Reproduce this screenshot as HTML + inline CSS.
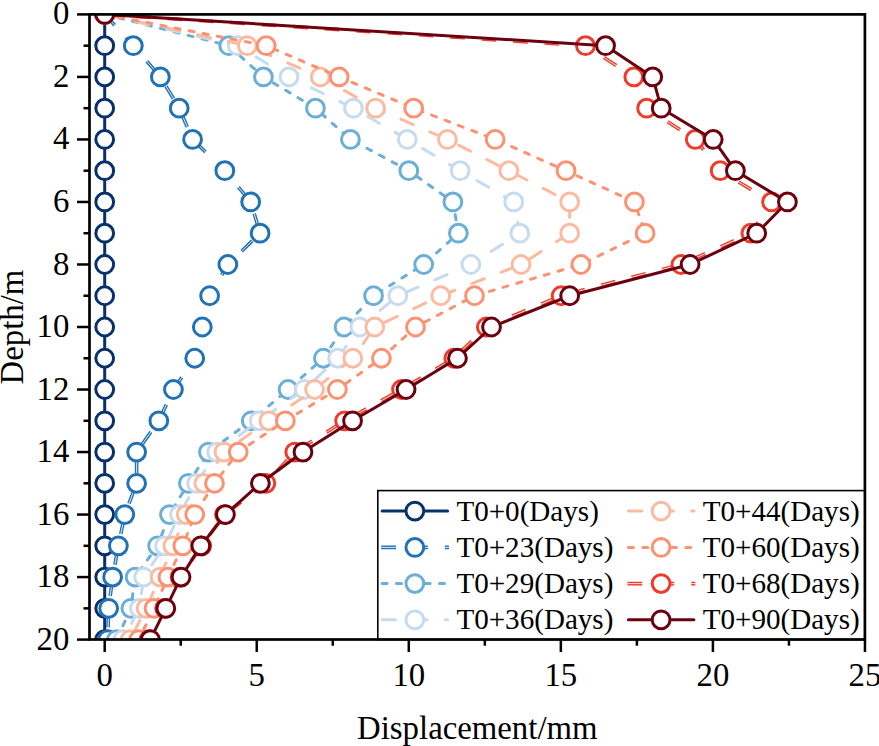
<!DOCTYPE html>
<html><head><meta charset="utf-8"><style>
html,body{margin:0;padding:0;background:#fff;}
svg{display:block;}
text{font-family:"Liberation Serif",serif;fill:#000;}
.tk{font-size:32.8px;}
.tt{font-size:32.8px;}
.lg{font-size:29.1px;}
</style></head><body>
<svg width="879" height="746" viewBox="0 0 879 746">
<clipPath id="pc"><rect x="89.5" y="14.4" width="775.4" height="625.1"/></clipPath>
<g clip-path="url(#pc)">
<polyline points="104.70,14.40 104.70,45.66 104.70,76.92 104.70,108.18 104.70,139.44 104.70,170.70 104.70,201.96 104.70,233.22 104.70,264.48 104.70,295.74 104.70,327.00 104.70,358.26 104.70,389.52 104.70,420.78 104.70,452.04 104.70,483.30 104.70,514.56 104.70,545.82 104.70,577.08 104.70,608.34 104.70,639.60" fill="none" stroke="#08306b" stroke-width="3.0" stroke-linejoin="round" stroke-linecap="round"/>
<circle cx="104.70" cy="14.40" r="8.9" fill="#fff" stroke="#08306b" stroke-width="3.0"/>
<circle cx="104.70" cy="45.66" r="8.9" fill="#fff" stroke="#08306b" stroke-width="3.0"/>
<circle cx="104.70" cy="76.92" r="8.9" fill="#fff" stroke="#08306b" stroke-width="3.0"/>
<circle cx="104.70" cy="108.18" r="8.9" fill="#fff" stroke="#08306b" stroke-width="3.0"/>
<circle cx="104.70" cy="139.44" r="8.9" fill="#fff" stroke="#08306b" stroke-width="3.0"/>
<circle cx="104.70" cy="170.70" r="8.9" fill="#fff" stroke="#08306b" stroke-width="3.0"/>
<circle cx="104.70" cy="201.96" r="8.9" fill="#fff" stroke="#08306b" stroke-width="3.0"/>
<circle cx="104.70" cy="233.22" r="8.9" fill="#fff" stroke="#08306b" stroke-width="3.0"/>
<circle cx="104.70" cy="264.48" r="8.9" fill="#fff" stroke="#08306b" stroke-width="3.0"/>
<circle cx="104.70" cy="295.74" r="8.9" fill="#fff" stroke="#08306b" stroke-width="3.0"/>
<circle cx="104.70" cy="327.00" r="8.9" fill="#fff" stroke="#08306b" stroke-width="3.0"/>
<circle cx="104.70" cy="358.26" r="8.9" fill="#fff" stroke="#08306b" stroke-width="3.0"/>
<circle cx="104.70" cy="389.52" r="8.9" fill="#fff" stroke="#08306b" stroke-width="3.0"/>
<circle cx="104.70" cy="420.78" r="8.9" fill="#fff" stroke="#08306b" stroke-width="3.0"/>
<circle cx="104.70" cy="452.04" r="8.9" fill="#fff" stroke="#08306b" stroke-width="3.0"/>
<circle cx="104.70" cy="483.30" r="8.9" fill="#fff" stroke="#08306b" stroke-width="3.0"/>
<circle cx="104.70" cy="514.56" r="8.9" fill="#fff" stroke="#08306b" stroke-width="3.0"/>
<circle cx="104.70" cy="545.82" r="8.9" fill="#fff" stroke="#08306b" stroke-width="3.0"/>
<circle cx="104.70" cy="577.08" r="8.9" fill="#fff" stroke="#08306b" stroke-width="3.0"/>
<circle cx="104.70" cy="608.34" r="8.9" fill="#fff" stroke="#08306b" stroke-width="3.0"/>
<circle cx="104.70" cy="639.60" r="8.9" fill="#fff" stroke="#08306b" stroke-width="3.0"/>
<mask id="dm1" maskUnits="userSpaceOnUse" x="0" y="0" width="879" height="746"><rect x="0" y="0" width="879" height="746" fill="#fff"/><polyline points="104.70,14.40 133.29,45.66 160.35,76.92 179.20,108.18 192.58,139.44 224.82,170.70 250.67,201.96 260.10,233.22 227.86,264.48 209.61,295.74 202.32,327.00 194.71,358.26 173.43,389.52 158.83,420.78 136.63,452.04 136.63,483.30 124.77,514.56 118.38,545.82 112.61,577.08 108.65,608.34 107.74,639.60" fill="none" stroke="#000" stroke-width="0.85" stroke-linejoin="round"/></mask><polyline points="104.70,14.40 133.29,45.66 160.35,76.92 179.20,108.18 192.58,139.44 224.82,170.70 250.67,201.96 260.10,233.22 227.86,264.48 209.61,295.74 202.32,327.00 194.71,358.26 173.43,389.52 158.83,420.78 136.63,452.04 136.63,483.30 124.77,514.56 118.38,545.82 112.61,577.08 108.65,608.34 107.74,639.60" fill="none" stroke="#2171b5" stroke-width="3.6" stroke-dasharray="14.8 16.68" stroke-dashoffset="0" stroke-linejoin="round" mask="url(#dm1)"/>
<circle cx="104.70" cy="14.40" r="8.9" fill="#fff" stroke="#2171b5" stroke-width="3.0"/>
<circle cx="133.29" cy="45.66" r="8.9" fill="#fff" stroke="#2171b5" stroke-width="3.0"/>
<circle cx="160.35" cy="76.92" r="8.9" fill="#fff" stroke="#2171b5" stroke-width="3.0"/>
<circle cx="179.20" cy="108.18" r="8.9" fill="#fff" stroke="#2171b5" stroke-width="3.0"/>
<circle cx="192.58" cy="139.44" r="8.9" fill="#fff" stroke="#2171b5" stroke-width="3.0"/>
<circle cx="224.82" cy="170.70" r="8.9" fill="#fff" stroke="#2171b5" stroke-width="3.0"/>
<circle cx="250.67" cy="201.96" r="8.9" fill="#fff" stroke="#2171b5" stroke-width="3.0"/>
<circle cx="260.10" cy="233.22" r="8.9" fill="#fff" stroke="#2171b5" stroke-width="3.0"/>
<circle cx="227.86" cy="264.48" r="8.9" fill="#fff" stroke="#2171b5" stroke-width="3.0"/>
<circle cx="209.61" cy="295.74" r="8.9" fill="#fff" stroke="#2171b5" stroke-width="3.0"/>
<circle cx="202.32" cy="327.00" r="8.9" fill="#fff" stroke="#2171b5" stroke-width="3.0"/>
<circle cx="194.71" cy="358.26" r="8.9" fill="#fff" stroke="#2171b5" stroke-width="3.0"/>
<circle cx="173.43" cy="389.52" r="8.9" fill="#fff" stroke="#2171b5" stroke-width="3.0"/>
<circle cx="158.83" cy="420.78" r="8.9" fill="#fff" stroke="#2171b5" stroke-width="3.0"/>
<circle cx="136.63" cy="452.04" r="8.9" fill="#fff" stroke="#2171b5" stroke-width="3.0"/>
<circle cx="136.63" cy="483.30" r="8.9" fill="#fff" stroke="#2171b5" stroke-width="3.0"/>
<circle cx="124.77" cy="514.56" r="8.9" fill="#fff" stroke="#2171b5" stroke-width="3.0"/>
<circle cx="118.38" cy="545.82" r="8.9" fill="#fff" stroke="#2171b5" stroke-width="3.0"/>
<circle cx="112.61" cy="577.08" r="8.9" fill="#fff" stroke="#2171b5" stroke-width="3.0"/>
<circle cx="108.65" cy="608.34" r="8.9" fill="#fff" stroke="#2171b5" stroke-width="3.0"/>
<circle cx="107.74" cy="639.60" r="8.9" fill="#fff" stroke="#2171b5" stroke-width="3.0"/>
<polyline points="104.70,14.40 228.77,45.66 263.44,76.92 315.44,108.18 350.41,139.44 408.80,170.70 452.89,201.96 458.37,233.22 423.70,264.48 373.52,295.74 344.03,327.00 323.35,358.26 288.07,389.52 251.28,420.78 208.40,452.04 188.33,483.30 169.47,514.56 157.61,545.82 135.11,577.08 130.85,608.34 116.56,639.60" fill="none" stroke="#6baed6" stroke-width="3.0" stroke-dasharray="5.0 9.33" stroke-linecap="round" stroke-linejoin="round"/>
<circle cx="104.70" cy="14.40" r="8.9" fill="#fff" stroke="#6baed6" stroke-width="3.0"/>
<circle cx="228.77" cy="45.66" r="8.9" fill="#fff" stroke="#6baed6" stroke-width="3.0"/>
<circle cx="263.44" cy="76.92" r="8.9" fill="#fff" stroke="#6baed6" stroke-width="3.0"/>
<circle cx="315.44" cy="108.18" r="8.9" fill="#fff" stroke="#6baed6" stroke-width="3.0"/>
<circle cx="350.41" cy="139.44" r="8.9" fill="#fff" stroke="#6baed6" stroke-width="3.0"/>
<circle cx="408.80" cy="170.70" r="8.9" fill="#fff" stroke="#6baed6" stroke-width="3.0"/>
<circle cx="452.89" cy="201.96" r="8.9" fill="#fff" stroke="#6baed6" stroke-width="3.0"/>
<circle cx="458.37" cy="233.22" r="8.9" fill="#fff" stroke="#6baed6" stroke-width="3.0"/>
<circle cx="423.70" cy="264.48" r="8.9" fill="#fff" stroke="#6baed6" stroke-width="3.0"/>
<circle cx="373.52" cy="295.74" r="8.9" fill="#fff" stroke="#6baed6" stroke-width="3.0"/>
<circle cx="344.03" cy="327.00" r="8.9" fill="#fff" stroke="#6baed6" stroke-width="3.0"/>
<circle cx="323.35" cy="358.26" r="8.9" fill="#fff" stroke="#6baed6" stroke-width="3.0"/>
<circle cx="288.07" cy="389.52" r="8.9" fill="#fff" stroke="#6baed6" stroke-width="3.0"/>
<circle cx="251.28" cy="420.78" r="8.9" fill="#fff" stroke="#6baed6" stroke-width="3.0"/>
<circle cx="208.40" cy="452.04" r="8.9" fill="#fff" stroke="#6baed6" stroke-width="3.0"/>
<circle cx="188.33" cy="483.30" r="8.9" fill="#fff" stroke="#6baed6" stroke-width="3.0"/>
<circle cx="169.47" cy="514.56" r="8.9" fill="#fff" stroke="#6baed6" stroke-width="3.0"/>
<circle cx="157.61" cy="545.82" r="8.9" fill="#fff" stroke="#6baed6" stroke-width="3.0"/>
<circle cx="135.11" cy="577.08" r="8.9" fill="#fff" stroke="#6baed6" stroke-width="3.0"/>
<circle cx="130.85" cy="608.34" r="8.9" fill="#fff" stroke="#6baed6" stroke-width="3.0"/>
<circle cx="116.56" cy="639.60" r="8.9" fill="#fff" stroke="#6baed6" stroke-width="3.0"/>
<polyline points="104.70,14.40 237.29,45.66 288.98,76.92 353.45,108.18 407.28,139.44 460.19,170.70 513.71,201.96 519.80,233.22 470.84,264.48 397.85,295.74 359.84,327.00 337.64,358.26 304.19,389.52 259.18,420.78 216.61,452.04 196.54,483.30 179.51,514.56 164.61,545.82 143.62,577.08 139.37,608.34 122.95,639.60" fill="none" stroke="#c6dbef" stroke-width="3.0" stroke-dasharray="13.4 18.25" stroke-linecap="round" stroke-linejoin="round"/>
<circle cx="104.70" cy="14.40" r="8.9" fill="#fff" stroke="#c6dbef" stroke-width="3.0"/>
<circle cx="237.29" cy="45.66" r="8.9" fill="#fff" stroke="#c6dbef" stroke-width="3.0"/>
<circle cx="288.98" cy="76.92" r="8.9" fill="#fff" stroke="#c6dbef" stroke-width="3.0"/>
<circle cx="353.45" cy="108.18" r="8.9" fill="#fff" stroke="#c6dbef" stroke-width="3.0"/>
<circle cx="407.28" cy="139.44" r="8.9" fill="#fff" stroke="#c6dbef" stroke-width="3.0"/>
<circle cx="460.19" cy="170.70" r="8.9" fill="#fff" stroke="#c6dbef" stroke-width="3.0"/>
<circle cx="513.71" cy="201.96" r="8.9" fill="#fff" stroke="#c6dbef" stroke-width="3.0"/>
<circle cx="519.80" cy="233.22" r="8.9" fill="#fff" stroke="#c6dbef" stroke-width="3.0"/>
<circle cx="470.84" cy="264.48" r="8.9" fill="#fff" stroke="#c6dbef" stroke-width="3.0"/>
<circle cx="397.85" cy="295.74" r="8.9" fill="#fff" stroke="#c6dbef" stroke-width="3.0"/>
<circle cx="359.84" cy="327.00" r="8.9" fill="#fff" stroke="#c6dbef" stroke-width="3.0"/>
<circle cx="337.64" cy="358.26" r="8.9" fill="#fff" stroke="#c6dbef" stroke-width="3.0"/>
<circle cx="304.19" cy="389.52" r="8.9" fill="#fff" stroke="#c6dbef" stroke-width="3.0"/>
<circle cx="259.18" cy="420.78" r="8.9" fill="#fff" stroke="#c6dbef" stroke-width="3.0"/>
<circle cx="216.61" cy="452.04" r="8.9" fill="#fff" stroke="#c6dbef" stroke-width="3.0"/>
<circle cx="196.54" cy="483.30" r="8.9" fill="#fff" stroke="#c6dbef" stroke-width="3.0"/>
<circle cx="179.51" cy="514.56" r="8.9" fill="#fff" stroke="#c6dbef" stroke-width="3.0"/>
<circle cx="164.61" cy="545.82" r="8.9" fill="#fff" stroke="#c6dbef" stroke-width="3.0"/>
<circle cx="143.62" cy="577.08" r="8.9" fill="#fff" stroke="#c6dbef" stroke-width="3.0"/>
<circle cx="139.37" cy="608.34" r="8.9" fill="#fff" stroke="#c6dbef" stroke-width="3.0"/>
<circle cx="122.95" cy="639.60" r="8.9" fill="#fff" stroke="#c6dbef" stroke-width="3.0"/>
<polyline points="104.70,14.40 247.32,45.66 320.31,76.92 375.65,108.18 447.42,139.44 508.85,170.70 569.67,201.96 569.67,233.22 521.01,264.48 440.73,295.74 374.74,327.00 352.85,358.26 314.53,389.52 268.91,420.78 223.91,452.04 203.84,483.30 186.20,514.56 172.82,545.82 160.05,577.08 146.06,608.34 130.24,639.60" fill="none" stroke="#fcbba1" stroke-width="3.0" stroke-dasharray="13.4 18.25" stroke-linecap="round" stroke-linejoin="round"/>
<circle cx="104.70" cy="14.40" r="8.9" fill="#fff" stroke="#fcbba1" stroke-width="3.0"/>
<circle cx="247.32" cy="45.66" r="8.9" fill="#fff" stroke="#fcbba1" stroke-width="3.0"/>
<circle cx="320.31" cy="76.92" r="8.9" fill="#fff" stroke="#fcbba1" stroke-width="3.0"/>
<circle cx="375.65" cy="108.18" r="8.9" fill="#fff" stroke="#fcbba1" stroke-width="3.0"/>
<circle cx="447.42" cy="139.44" r="8.9" fill="#fff" stroke="#fcbba1" stroke-width="3.0"/>
<circle cx="508.85" cy="170.70" r="8.9" fill="#fff" stroke="#fcbba1" stroke-width="3.0"/>
<circle cx="569.67" cy="201.96" r="8.9" fill="#fff" stroke="#fcbba1" stroke-width="3.0"/>
<circle cx="569.67" cy="233.22" r="8.9" fill="#fff" stroke="#fcbba1" stroke-width="3.0"/>
<circle cx="521.01" cy="264.48" r="8.9" fill="#fff" stroke="#fcbba1" stroke-width="3.0"/>
<circle cx="440.73" cy="295.74" r="8.9" fill="#fff" stroke="#fcbba1" stroke-width="3.0"/>
<circle cx="374.74" cy="327.00" r="8.9" fill="#fff" stroke="#fcbba1" stroke-width="3.0"/>
<circle cx="352.85" cy="358.26" r="8.9" fill="#fff" stroke="#fcbba1" stroke-width="3.0"/>
<circle cx="314.53" cy="389.52" r="8.9" fill="#fff" stroke="#fcbba1" stroke-width="3.0"/>
<circle cx="268.91" cy="420.78" r="8.9" fill="#fff" stroke="#fcbba1" stroke-width="3.0"/>
<circle cx="223.91" cy="452.04" r="8.9" fill="#fff" stroke="#fcbba1" stroke-width="3.0"/>
<circle cx="203.84" cy="483.30" r="8.9" fill="#fff" stroke="#fcbba1" stroke-width="3.0"/>
<circle cx="186.20" cy="514.56" r="8.9" fill="#fff" stroke="#fcbba1" stroke-width="3.0"/>
<circle cx="172.82" cy="545.82" r="8.9" fill="#fff" stroke="#fcbba1" stroke-width="3.0"/>
<circle cx="160.05" cy="577.08" r="8.9" fill="#fff" stroke="#fcbba1" stroke-width="3.0"/>
<circle cx="146.06" cy="608.34" r="8.9" fill="#fff" stroke="#fcbba1" stroke-width="3.0"/>
<circle cx="130.24" cy="639.60" r="8.9" fill="#fff" stroke="#fcbba1" stroke-width="3.0"/>
<polyline points="104.70,14.40 266.18,45.66 339.16,76.92 413.67,108.18 495.16,139.44 566.02,170.70 634.44,201.96 645.09,233.22 580.92,264.48 474.49,295.74 415.49,327.00 381.43,358.26 337.34,389.52 285.34,420.78 238.20,452.04 214.48,483.30 194.71,514.56 182.85,545.82 167.95,577.08 153.96,608.34 138.76,639.60" fill="none" stroke="#fc9272" stroke-width="3.0" stroke-dasharray="5.0 9.33" stroke-linecap="round" stroke-linejoin="round"/>
<circle cx="104.70" cy="14.40" r="8.9" fill="#fff" stroke="#fc9272" stroke-width="3.0"/>
<circle cx="266.18" cy="45.66" r="8.9" fill="#fff" stroke="#fc9272" stroke-width="3.0"/>
<circle cx="339.16" cy="76.92" r="8.9" fill="#fff" stroke="#fc9272" stroke-width="3.0"/>
<circle cx="413.67" cy="108.18" r="8.9" fill="#fff" stroke="#fc9272" stroke-width="3.0"/>
<circle cx="495.16" cy="139.44" r="8.9" fill="#fff" stroke="#fc9272" stroke-width="3.0"/>
<circle cx="566.02" cy="170.70" r="8.9" fill="#fff" stroke="#fc9272" stroke-width="3.0"/>
<circle cx="634.44" cy="201.96" r="8.9" fill="#fff" stroke="#fc9272" stroke-width="3.0"/>
<circle cx="645.09" cy="233.22" r="8.9" fill="#fff" stroke="#fc9272" stroke-width="3.0"/>
<circle cx="580.92" cy="264.48" r="8.9" fill="#fff" stroke="#fc9272" stroke-width="3.0"/>
<circle cx="474.49" cy="295.74" r="8.9" fill="#fff" stroke="#fc9272" stroke-width="3.0"/>
<circle cx="415.49" cy="327.00" r="8.9" fill="#fff" stroke="#fc9272" stroke-width="3.0"/>
<circle cx="381.43" cy="358.26" r="8.9" fill="#fff" stroke="#fc9272" stroke-width="3.0"/>
<circle cx="337.34" cy="389.52" r="8.9" fill="#fff" stroke="#fc9272" stroke-width="3.0"/>
<circle cx="285.34" cy="420.78" r="8.9" fill="#fff" stroke="#fc9272" stroke-width="3.0"/>
<circle cx="238.20" cy="452.04" r="8.9" fill="#fff" stroke="#fc9272" stroke-width="3.0"/>
<circle cx="214.48" cy="483.30" r="8.9" fill="#fff" stroke="#fc9272" stroke-width="3.0"/>
<circle cx="194.71" cy="514.56" r="8.9" fill="#fff" stroke="#fc9272" stroke-width="3.0"/>
<circle cx="182.85" cy="545.82" r="8.9" fill="#fff" stroke="#fc9272" stroke-width="3.0"/>
<circle cx="167.95" cy="577.08" r="8.9" fill="#fff" stroke="#fc9272" stroke-width="3.0"/>
<circle cx="153.96" cy="608.34" r="8.9" fill="#fff" stroke="#fc9272" stroke-width="3.0"/>
<circle cx="138.76" cy="639.60" r="8.9" fill="#fff" stroke="#fc9272" stroke-width="3.0"/>
<mask id="dm2" maskUnits="userSpaceOnUse" x="0" y="0" width="879" height="746"><rect x="0" y="0" width="879" height="746" fill="#fff"/><polyline points="104.70,14.40 585.48,45.66 633.83,76.92 646.61,108.18 695.26,139.44 720.20,170.70 771.59,201.96 750.91,233.22 680.97,264.48 561.15,295.74 486.35,327.00 453.81,358.26 401.50,389.52 344.63,420.78 294.76,452.04 265.87,483.30 224.52,514.56 201.71,545.82 180.12,577.08 164.61,608.34 149.10,639.60" fill="none" stroke="#000" stroke-width="0.85" stroke-linejoin="round"/></mask><polyline points="104.70,14.40 585.48,45.66 633.83,76.92 646.61,108.18 695.26,139.44 720.20,170.70 771.59,201.96 750.91,233.22 680.97,264.48 561.15,295.74 486.35,327.00 453.81,358.26 401.50,389.52 344.63,420.78 294.76,452.04 265.87,483.30 224.52,514.56 201.71,545.82 180.12,577.08 164.61,608.34 149.10,639.60" fill="none" stroke="#ef3b2c" stroke-width="3.6" stroke-dasharray="14.8 16.68" stroke-dashoffset="0" stroke-linejoin="round" mask="url(#dm2)"/>
<circle cx="104.70" cy="14.40" r="8.9" fill="#fff" stroke="#ef3b2c" stroke-width="3.0"/>
<circle cx="585.48" cy="45.66" r="8.9" fill="#fff" stroke="#ef3b2c" stroke-width="3.0"/>
<circle cx="633.83" cy="76.92" r="8.9" fill="#fff" stroke="#ef3b2c" stroke-width="3.0"/>
<circle cx="646.61" cy="108.18" r="8.9" fill="#fff" stroke="#ef3b2c" stroke-width="3.0"/>
<circle cx="695.26" cy="139.44" r="8.9" fill="#fff" stroke="#ef3b2c" stroke-width="3.0"/>
<circle cx="720.20" cy="170.70" r="8.9" fill="#fff" stroke="#ef3b2c" stroke-width="3.0"/>
<circle cx="771.59" cy="201.96" r="8.9" fill="#fff" stroke="#ef3b2c" stroke-width="3.0"/>
<circle cx="750.91" cy="233.22" r="8.9" fill="#fff" stroke="#ef3b2c" stroke-width="3.0"/>
<circle cx="680.97" cy="264.48" r="8.9" fill="#fff" stroke="#ef3b2c" stroke-width="3.0"/>
<circle cx="561.15" cy="295.74" r="8.9" fill="#fff" stroke="#ef3b2c" stroke-width="3.0"/>
<circle cx="486.35" cy="327.00" r="8.9" fill="#fff" stroke="#ef3b2c" stroke-width="3.0"/>
<circle cx="453.81" cy="358.26" r="8.9" fill="#fff" stroke="#ef3b2c" stroke-width="3.0"/>
<circle cx="401.50" cy="389.52" r="8.9" fill="#fff" stroke="#ef3b2c" stroke-width="3.0"/>
<circle cx="344.63" cy="420.78" r="8.9" fill="#fff" stroke="#ef3b2c" stroke-width="3.0"/>
<circle cx="294.76" cy="452.04" r="8.9" fill="#fff" stroke="#ef3b2c" stroke-width="3.0"/>
<circle cx="265.87" cy="483.30" r="8.9" fill="#fff" stroke="#ef3b2c" stroke-width="3.0"/>
<circle cx="224.52" cy="514.56" r="8.9" fill="#fff" stroke="#ef3b2c" stroke-width="3.0"/>
<circle cx="201.71" cy="545.82" r="8.9" fill="#fff" stroke="#ef3b2c" stroke-width="3.0"/>
<circle cx="180.12" cy="577.08" r="8.9" fill="#fff" stroke="#ef3b2c" stroke-width="3.0"/>
<circle cx="164.61" cy="608.34" r="8.9" fill="#fff" stroke="#ef3b2c" stroke-width="3.0"/>
<circle cx="149.10" cy="639.60" r="8.9" fill="#fff" stroke="#ef3b2c" stroke-width="3.0"/>
<polyline points="104.70,14.40 605.55,45.66 652.69,76.92 661.20,108.18 713.20,139.44 735.40,170.70 787.40,201.96 756.69,233.22 690.09,264.48 569.67,295.74 491.52,327.00 457.46,358.26 406.06,389.52 352.54,420.78 302.97,452.04 260.40,483.30 225.43,514.56 200.80,545.82 181.03,577.08 165.82,608.34 150.31,639.60" fill="none" stroke="#6b000f" stroke-width="3.0" stroke-linejoin="round" stroke-linecap="round"/>
<circle cx="104.70" cy="14.40" r="8.9" fill="#fff" stroke="#6b000f" stroke-width="3.0"/>
<circle cx="605.55" cy="45.66" r="8.9" fill="#fff" stroke="#6b000f" stroke-width="3.0"/>
<circle cx="652.69" cy="76.92" r="8.9" fill="#fff" stroke="#6b000f" stroke-width="3.0"/>
<circle cx="661.20" cy="108.18" r="8.9" fill="#fff" stroke="#6b000f" stroke-width="3.0"/>
<circle cx="713.20" cy="139.44" r="8.9" fill="#fff" stroke="#6b000f" stroke-width="3.0"/>
<circle cx="735.40" cy="170.70" r="8.9" fill="#fff" stroke="#6b000f" stroke-width="3.0"/>
<circle cx="787.40" cy="201.96" r="8.9" fill="#fff" stroke="#6b000f" stroke-width="3.0"/>
<circle cx="756.69" cy="233.22" r="8.9" fill="#fff" stroke="#6b000f" stroke-width="3.0"/>
<circle cx="690.09" cy="264.48" r="8.9" fill="#fff" stroke="#6b000f" stroke-width="3.0"/>
<circle cx="569.67" cy="295.74" r="8.9" fill="#fff" stroke="#6b000f" stroke-width="3.0"/>
<circle cx="491.52" cy="327.00" r="8.9" fill="#fff" stroke="#6b000f" stroke-width="3.0"/>
<circle cx="457.46" cy="358.26" r="8.9" fill="#fff" stroke="#6b000f" stroke-width="3.0"/>
<circle cx="406.06" cy="389.52" r="8.9" fill="#fff" stroke="#6b000f" stroke-width="3.0"/>
<circle cx="352.54" cy="420.78" r="8.9" fill="#fff" stroke="#6b000f" stroke-width="3.0"/>
<circle cx="302.97" cy="452.04" r="8.9" fill="#fff" stroke="#6b000f" stroke-width="3.0"/>
<circle cx="260.40" cy="483.30" r="8.9" fill="#fff" stroke="#6b000f" stroke-width="3.0"/>
<circle cx="225.43" cy="514.56" r="8.9" fill="#fff" stroke="#6b000f" stroke-width="3.0"/>
<circle cx="200.80" cy="545.82" r="8.9" fill="#fff" stroke="#6b000f" stroke-width="3.0"/>
<circle cx="181.03" cy="577.08" r="8.9" fill="#fff" stroke="#6b000f" stroke-width="3.0"/>
<circle cx="165.82" cy="608.34" r="8.9" fill="#fff" stroke="#6b000f" stroke-width="3.0"/>
<circle cx="150.31" cy="639.60" r="8.9" fill="#fff" stroke="#6b000f" stroke-width="3.0"/>
</g>
<rect x="377.8" y="490.6" width="487.09999999999997" height="148.89999999999998" fill="#fff" stroke="#000" stroke-width="1.6"/>
<polyline points="382.10,511.10 447.60,511.10" fill="none" stroke="#08306b" stroke-width="3.0" stroke-linejoin="round" stroke-linecap="round"/>
<circle cx="414.85" cy="511.10" r="8.9" fill="#fff" stroke="#08306b" stroke-width="3.0"/>
<text x="456.4" y="520.7" class="lg">T0+0(Days)</text>
<mask id="dm3" maskUnits="userSpaceOnUse" x="0" y="0" width="879" height="746"><rect x="0" y="0" width="879" height="746" fill="#fff"/><polyline points="381.20,547.40 449.00,547.40" fill="none" stroke="#000" stroke-width="0.85" stroke-linejoin="round"/></mask><polyline points="381.20,547.40 449.00,547.40" fill="none" stroke="#2171b5" stroke-width="3.6" stroke-dasharray="14.8 17.05" stroke-dashoffset="0" stroke-linejoin="round" mask="url(#dm3)"/>
<circle cx="414.85" cy="547.40" r="8.9" fill="#fff" stroke="#2171b5" stroke-width="3.0"/>
<text x="456.4" y="557.0" class="lg">T0+23(Days)</text>
<polyline points="382.10,583.60 447.60,583.60" fill="none" stroke="#6baed6" stroke-width="3.0" stroke-dasharray="5.0 9.35" stroke-linecap="round" stroke-linejoin="round"/>
<circle cx="414.85" cy="583.60" r="8.9" fill="#fff" stroke="#6baed6" stroke-width="3.0"/>
<text x="456.4" y="593.2" class="lg">T0+29(Days)</text>
<polyline points="382.10,619.80 447.60,619.80" fill="none" stroke="#c6dbef" stroke-width="3.0" stroke-dasharray="13.4 18.25" stroke-linecap="round" stroke-linejoin="round"/>
<circle cx="414.85" cy="619.80" r="8.9" fill="#fff" stroke="#c6dbef" stroke-width="3.0"/>
<text x="456.4" y="629.4" class="lg">T0+36(Days)</text>
<polyline points="628.40,511.10 693.90,511.10" fill="none" stroke="#fcbba1" stroke-width="3.0" stroke-dasharray="13.4 18.25" stroke-linecap="round" stroke-linejoin="round"/>
<circle cx="661.10" cy="511.10" r="8.9" fill="#fff" stroke="#fcbba1" stroke-width="3.0"/>
<text x="702.7" y="520.7" class="lg">T0+44(Days)</text>
<polyline points="628.40,547.40 693.90,547.40" fill="none" stroke="#fc9272" stroke-width="3.0" stroke-dasharray="5.0 9.35" stroke-linecap="round" stroke-linejoin="round"/>
<circle cx="661.10" cy="547.40" r="8.9" fill="#fff" stroke="#fc9272" stroke-width="3.0"/>
<text x="702.7" y="557.0" class="lg">T0+60(Days)</text>
<mask id="dm4" maskUnits="userSpaceOnUse" x="0" y="0" width="879" height="746"><rect x="0" y="0" width="879" height="746" fill="#fff"/><polyline points="627.50,583.60 695.30,583.60" fill="none" stroke="#000" stroke-width="0.85" stroke-linejoin="round"/></mask><polyline points="627.50,583.60 695.30,583.60" fill="none" stroke="#ef3b2c" stroke-width="3.6" stroke-dasharray="14.8 17.05" stroke-dashoffset="0" stroke-linejoin="round" mask="url(#dm4)"/>
<circle cx="661.10" cy="583.60" r="8.9" fill="#fff" stroke="#ef3b2c" stroke-width="3.0"/>
<text x="702.7" y="593.2" class="lg">T0+68(Days)</text>
<polyline points="628.40,619.80 693.90,619.80" fill="none" stroke="#6b000f" stroke-width="3.0" stroke-linejoin="round" stroke-linecap="round"/>
<circle cx="661.10" cy="619.80" r="8.9" fill="#fff" stroke="#6b000f" stroke-width="3.0"/>
<text x="702.7" y="629.4" class="lg">T0+90(Days)</text>
<rect x="89.5" y="14.4" width="775.4" height="625.1" fill="none" stroke="#000" stroke-width="2.7"/>
<line x1="77.00" y1="14.40" x2="89.5" y2="14.40" stroke="#000" stroke-width="2.5"/>
<text x="69.4" y="24.4" class="tk" text-anchor="end">0</text>
<line x1="83.50" y1="45.66" x2="89.5" y2="45.66" stroke="#000" stroke-width="2.5"/>
<line x1="77.00" y1="76.92" x2="89.5" y2="76.92" stroke="#000" stroke-width="2.5"/>
<text x="69.4" y="86.9" class="tk" text-anchor="end">2</text>
<line x1="83.50" y1="108.18" x2="89.5" y2="108.18" stroke="#000" stroke-width="2.5"/>
<line x1="77.00" y1="139.44" x2="89.5" y2="139.44" stroke="#000" stroke-width="2.5"/>
<text x="69.4" y="149.4" class="tk" text-anchor="end">4</text>
<line x1="83.50" y1="170.70" x2="89.5" y2="170.70" stroke="#000" stroke-width="2.5"/>
<line x1="77.00" y1="201.96" x2="89.5" y2="201.96" stroke="#000" stroke-width="2.5"/>
<text x="69.4" y="212.0" class="tk" text-anchor="end">6</text>
<line x1="83.50" y1="233.22" x2="89.5" y2="233.22" stroke="#000" stroke-width="2.5"/>
<line x1="77.00" y1="264.48" x2="89.5" y2="264.48" stroke="#000" stroke-width="2.5"/>
<text x="69.4" y="274.5" class="tk" text-anchor="end">8</text>
<line x1="83.50" y1="295.74" x2="89.5" y2="295.74" stroke="#000" stroke-width="2.5"/>
<line x1="77.00" y1="327.00" x2="89.5" y2="327.00" stroke="#000" stroke-width="2.5"/>
<text x="69.4" y="337.0" class="tk" text-anchor="end">10</text>
<line x1="83.50" y1="358.26" x2="89.5" y2="358.26" stroke="#000" stroke-width="2.5"/>
<line x1="77.00" y1="389.52" x2="89.5" y2="389.52" stroke="#000" stroke-width="2.5"/>
<text x="69.4" y="399.5" class="tk" text-anchor="end">12</text>
<line x1="83.50" y1="420.78" x2="89.5" y2="420.78" stroke="#000" stroke-width="2.5"/>
<line x1="77.00" y1="452.04" x2="89.5" y2="452.04" stroke="#000" stroke-width="2.5"/>
<text x="69.4" y="462.0" class="tk" text-anchor="end">14</text>
<line x1="83.50" y1="483.30" x2="89.5" y2="483.30" stroke="#000" stroke-width="2.5"/>
<line x1="77.00" y1="514.56" x2="89.5" y2="514.56" stroke="#000" stroke-width="2.5"/>
<text x="69.4" y="524.6" class="tk" text-anchor="end">16</text>
<line x1="83.50" y1="545.82" x2="89.5" y2="545.82" stroke="#000" stroke-width="2.5"/>
<line x1="77.00" y1="577.08" x2="89.5" y2="577.08" stroke="#000" stroke-width="2.5"/>
<text x="69.4" y="587.1" class="tk" text-anchor="end">18</text>
<line x1="83.50" y1="608.34" x2="89.5" y2="608.34" stroke="#000" stroke-width="2.5"/>
<line x1="77.00" y1="639.60" x2="89.5" y2="639.60" stroke="#000" stroke-width="2.5"/>
<text x="69.4" y="649.6" class="tk" text-anchor="end">20</text>
<line x1="104.70" y1="639.5" x2="104.70" y2="652.00" stroke="#000" stroke-width="2.5"/>
<text x="104.70" y="686.0" class="tk" text-anchor="middle">0</text>
<line x1="180.73" y1="639.5" x2="180.73" y2="645.70" stroke="#000" stroke-width="2.5"/>
<line x1="256.75" y1="639.5" x2="256.75" y2="652.00" stroke="#000" stroke-width="2.5"/>
<text x="256.75" y="686.0" class="tk" text-anchor="middle">5</text>
<line x1="332.77" y1="639.5" x2="332.77" y2="645.70" stroke="#000" stroke-width="2.5"/>
<line x1="408.80" y1="639.5" x2="408.80" y2="652.00" stroke="#000" stroke-width="2.5"/>
<text x="408.80" y="686.0" class="tk" text-anchor="middle">10</text>
<line x1="484.82" y1="639.5" x2="484.82" y2="645.70" stroke="#000" stroke-width="2.5"/>
<line x1="560.85" y1="639.5" x2="560.85" y2="652.00" stroke="#000" stroke-width="2.5"/>
<text x="560.85" y="686.0" class="tk" text-anchor="middle">15</text>
<line x1="636.88" y1="639.5" x2="636.88" y2="645.70" stroke="#000" stroke-width="2.5"/>
<line x1="712.90" y1="639.5" x2="712.90" y2="652.00" stroke="#000" stroke-width="2.5"/>
<text x="712.90" y="686.0" class="tk" text-anchor="middle">20</text>
<line x1="788.93" y1="639.5" x2="788.93" y2="645.70" stroke="#000" stroke-width="2.5"/>
<line x1="864.95" y1="639.5" x2="864.95" y2="652.00" stroke="#000" stroke-width="2.5"/>
<text x="864.95" y="686.0" class="tk" text-anchor="middle">25</text>
<text x="477.3" y="738.6" class="tt" text-anchor="middle">Displacement/mm</text>
<text transform="translate(23.0,327.0) rotate(-90)" class="tt" text-anchor="middle">Depth/m</text>
</svg>
</body></html>
